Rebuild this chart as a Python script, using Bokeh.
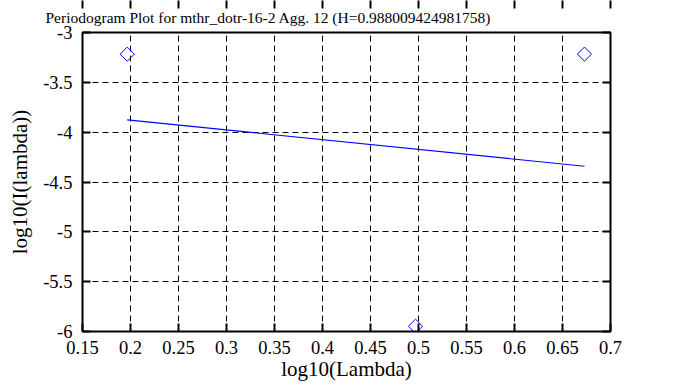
import math
from bokeh.plotting import figure
from bokeh.models import LinearAxis, FixedTicker, Title, Range1d
from bokeh.embed import file_html
from bokeh.resources import INLINE

# data
pts_x = [0.1966, 0.4969, 0.6729]
pts_y = [-3.217, -5.947, -3.217]
fit_x = [0.1966, 0.6729]
fit_y = [-3.877, -4.342]
x_ticks = [0.15, 0.2, 0.25, 0.3, 0.35, 0.4, 0.45, 0.5, 0.55, 0.6, 0.65, 0.7]
x_tick_labels = ["0.15", "0.2", "0.25", "0.3", "0.35", "0.4", "0.45", "0.5", "0.55", "0.6", "0.65", "0.7"]
y_ticks = [-6, -5.5, -5, -4.5, -4, -3.5, -3]
y_tick_labels = ["-6", "-5.5", "-5", "-4.5", "-4", "-3.5", "-3"]
title_text = "Periodogram Plot for mthr_dotr-16-2 Agg. 12 (H=0.988009424981758)"

FONT = "Liberation Serif"

p = figure(width=678, height=387, output_backend="svg", toolbar_location=None,
           x_range=Range1d(x_ticks[0], x_ticks[-1]), y_range=Range1d(y_ticks[0], y_ticks[-1]),
           min_border_left=82, min_border_right=68, min_border_top=31, min_border_bottom=56,
           title=None)
p.background_fill_color = "white"
p.border_fill_color = "white"
p.outline_line_color = "black"
p.outline_line_width = 2

t = Title(text=title_text, align="left", offset=-37, text_font=FONT,
          text_font_size="15.5px", text_font_style="normal", text_color="black",
          text_line_height=1.0, standoff=13)
p.add_layout(t, "above")

def style_axis(ax, ticks, labels, show_labels=True):
    ax.ticker = FixedTicker(ticks=ticks)
    ax.axis_line_color = None
    ax.major_tick_in = 8
    ax.major_tick_out = 0
    ax.major_tick_line_width = 2
    ax.major_tick_line_color = "black"
    ax.minor_tick_line_color = None
    ax.major_label_text_font = FONT
    ax.major_label_text_color = "black"
    ax.axis_label_text_font = FONT
    ax.axis_label_text_font_size = "21px"
    ax.axis_label_text_font_style = "normal"
    ax.axis_label_text_color = "black"
    if show_labels:
        ax.major_label_text_font_size = "18.5px"
        ax.major_label_overrides = {tv: lab for tv, lab in zip(ticks, labels)}
    else:
        ax.major_label_text_font_size = "0px"
        ax.major_label_overrides = {tv: "" for tv in ticks}

xa = p.xaxis[0]
style_axis(xa, x_ticks, x_tick_labels)
xa.axis_label = "log10(Lambda)"
xa.major_label_standoff = 9
xa.axis_label_standoff = 0

ya = p.yaxis[0]
style_axis(ya, y_ticks, y_tick_labels)
ya.axis_label = "log10(I(lambda))"
ya.major_label_standoff = 10
ya.axis_label_standoff = 8

top = LinearAxis()
style_axis(top, x_ticks, x_tick_labels, show_labels=False)
top.major_label_standoff = 0
p.add_layout(top, "above")
right = LinearAxis()
style_axis(right, y_ticks, y_tick_labels, show_labels=False)
right.major_label_standoff = 0
p.add_layout(right, "right")

p.xgrid.ticker = FixedTicker(ticks=x_ticks)
p.ygrid.ticker = FixedTicker(ticks=y_ticks)
for g in (p.xgrid[0], p.ygrid[0]):
    g.grid_line_color = "black"
    g.grid_line_dash = "6 4"
    g.grid_line_width = 1

p.line(fit_x, fit_y, line_color="blue", line_width=1.2)
p.scatter(pts_x, pts_y, marker="square", angle=math.pi / 4, size=10,
          fill_color=None, line_color="blue", line_width=1)

open("out.html", "w").write(file_html(p, INLINE))
